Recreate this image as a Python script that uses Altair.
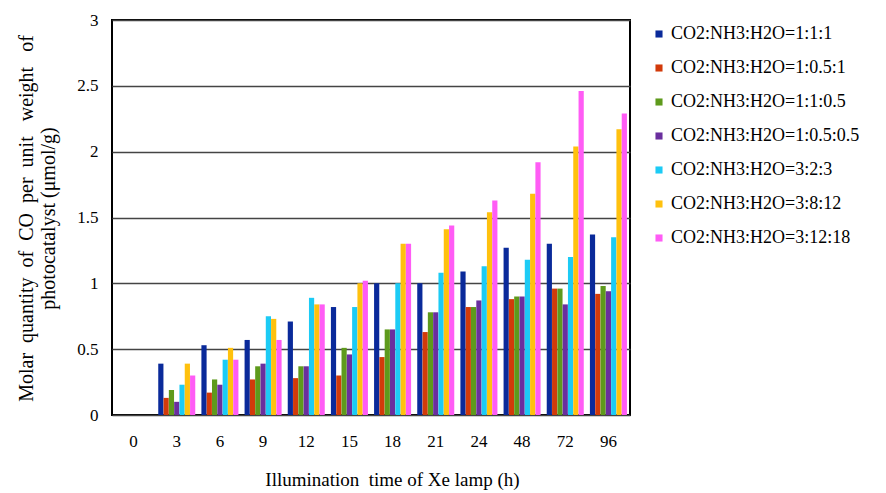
import altair as alt
import pandas as pd

times = ["0", "3", "6", "9", "12", "15", "18", "21", "24", "48", "72", "96"]
series = [
    "CO2:NH3:H2O=1:1:1",
    "CO2:NH3:H2O=1:0.5:1",
    "CO2:NH3:H2O=1:1:0.5",
    "CO2:NH3:H2O=1:0.5:0.5",
    "CO2:NH3:H2O=3:2:3",
    "CO2:NH3:H2O=3:8:12",
    "CO2:NH3:H2O=3:12:18",
]
colors = ["#0A2A9A", "#D23A0A", "#5E9A1C", "#6A2F9E", "#1CCBF5", "#FFC10E", "#FF5CF5"]

s1 = [0, 0.39, 0.53, 0.57, 0.71, 0.82, 1.00, 1.00, 1.09, 1.27, 1.30, 1.37]
s2 = [0, 0.13, 0.17, 0.27, 0.28, 0.30, 0.44, 0.63, 0.82, 0.88, 0.96, 0.92]
s3 = [0, 0.19, 0.27, 0.37, 0.37, 0.51, 0.65, 0.78, 0.82, 0.90, 0.96, 0.98]
s4 = [0, 0.10, 0.23, 0.39, 0.37, 0.46, 0.65, 0.78, 0.87, 0.90, 0.84, 0.94]
s5 = [0, 0.23, 0.42, 0.75, 0.89, 0.82, 1.00, 1.08, 1.13, 1.18, 1.20, 1.35]
s6 = [0, 0.39, 0.51, 0.73, 0.84, 1.00, 1.30, 1.41, 1.54, 1.68, 2.04, 2.17]
s7 = [0, 0.30, 0.42, 0.57, 0.84, 1.02, 1.30, 1.44, 1.63, 1.92, 2.46, 2.29]

rows = []
for name, vals in zip(series, [s1, s2, s3, s4, s5, s6, s7]):
    for t, v in zip(times, vals):
        rows.append({"time": t, "series": name, "value": v})
df = pd.DataFrame(rows)

FONT = "Liberation Serif"
NB = "\u00a0"
ytitle_1 = "Molar" + NB + " quantity" + NB + " of" + NB + " CO" + NB + " per" + NB + " unit" + NB + NB + " weight" + NB + NB + " of"
ytitle_2 = "photocatalyst (\u03bcmol/g)"

chart = alt.Chart(df).mark_bar(size=5.2).encode(
    x=alt.X("time:N", sort=times,
            scale=alt.Scale(paddingInner=0.14, paddingOuter=0.07),
            axis=alt.Axis(title="Illumination" + NB + " time of Xe lamp (h)", labelAngle=0,
                          labelPadding=18, ticks=False, domain=False,
                          titleX=280, titleAlign="center", titlePadding=21)),
    xOffset=alt.XOffset("series:N", sort=series),
    y=alt.Y("value:Q", scale=alt.Scale(domain=[0, 3], nice=False),
            axis=alt.Axis(values=[0, 0.5, 1, 1.5, 2, 2.5, 3], format="~g",
                          title=[ytitle_1, ytitle_2],
                          labelPadding=14, ticks=False, domain=False,
                          grid=True, gridColor="#444444", gridWidth=1.5,
                          titleAngle=-90, titleFontSize=20,
                          titleX=-96, titleY=198, titleAlign="center", titleBaseline="top",
                          titleLineHeight=22)),
    color=alt.Color("series:N", sort=series,
                    scale=alt.Scale(domain=series, range=colors),
                    legend=alt.Legend(title=None, orient="none", legendX=538, legendY=5,
                                      symbolType="square", symbolSize=50, symbolStrokeWidth=0,
                                      rowPadding=16, labelOffset=3, labelLimit=300)),
).properties(
    width=518, height=395,
    autosize=alt.AutoSizeParams(type="none"),
    padding={"left": 112, "top": 20, "right": 256, "bottom": 78},
    background="white",
).configure(
    font=FONT
).configure_axis(
    labelFont=FONT, labelFontSize=17, labelColor="black",
    titleFont=FONT, titleFontSize=19, titleFontWeight="normal", titleColor="black",
).configure_legend(
    labelFont=FONT, labelFontSize=18, labelColor="black",
).configure_view(
    stroke="black", strokeWidth=2
)

chart.save("out.html", embed_options={"renderer": "svg", "actions": False})
